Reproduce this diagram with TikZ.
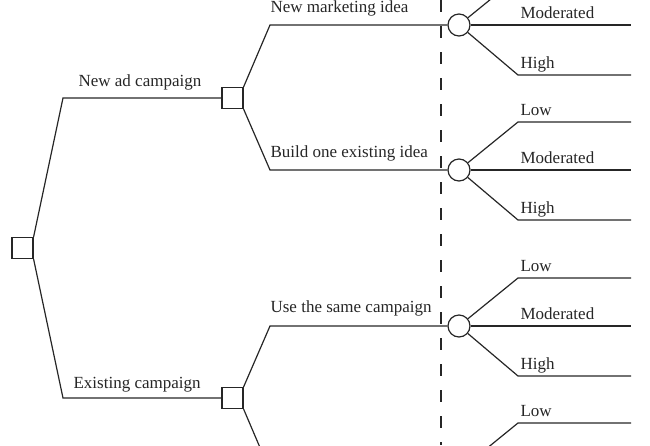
\documentclass[tikz,border=0pt]{standalone}
\usepackage{fontspec}
\setmainfont{Liberation Serif}
\usetikzlibrary{positioning}

\begin{document}
\begin{tikzpicture}[x=1pt,y=-1pt,line width=1.2pt,draw=black!85,
 decision/.style={rectangle,draw,fill=white,minimum size=21pt,inner sep=0pt},
 chance/.style={circle,draw,fill=white,minimum size=22pt,inner sep=0pt},
 txt/.style={font=\fontsize{17}{20}\selectfont,text=black!85,inner sep=0pt},
 cutline/.style={dash pattern=on 12pt off 14pt}]
  \useasboundingbox (0,0) rectangle (650,445);
  \clip (0,0) rectangle (650,445);

  \coordinate (top) at (441,0);
  \coordinate (bot) at (441,445);
  \draw[cutline] (top) -- (bot);

  \node[decision] (d0) at (22.5,248) {};
  \node[decision] (d1) at (232.5,98) {};
  \node[decision] (d2) at (232.5,398) {};
  \coordinate (b1) at (63,98);
  \coordinate (b2) at (63,398);

  \foreach \n/\y in {1/25, 2/170, 3/326, 4/471} {
   \node[chance] (c\n) at (459,\y) {};
   \coordinate (e\n) at (270,\y);
   \coordinate (low\n) at (518,\y-48);
   \coordinate (mod\n) at (518,\y);
   \coordinate (high\n) at (518,\y+50);
   \coordinate (lowend\n) at (631,\y-48);
   \coordinate (modend\n) at (631,\y);
   \coordinate (highend\n) at (631,\y+50);
   \draw (c\n) -- (low\n) -- (lowend\n);
   \draw (c\n) -- (modend\n);
   \draw (c\n) -- (high\n) -- (highend\n);}

  \foreach \s/\a/\b/\t in {d0/north east/b1/d1, d0/south east/b2/d2,
   d1/north east/e1/c1, d1/south east/e2/c2,
   d2/north east/e3/c3, d2/south east/e4/c4} {
   \draw (\s.\a) -- (\b) -- (\t);}

  % choices
  \path (b1) ++(15,-12) node[txt,anchor=base west] {New ad campaign};
  \path (b2) ++(10,-10) node[txt,anchor=base west] {Existing campaign};
  \path (e1) ++(0,-13) node[txt,anchor=base west] {New marketing idea};
  \path (e2) ++(0,-13) node[txt,anchor=base west] {Build one existing idea};
  \path (e3) ++(0,-14) node[txt,anchor=base west] {Use the same campaign};

  % outcomes
  \foreach \c/\t in {low2/Low, low3/Low, low4/Low,
   mod1/Moderated, mod2/Moderated, mod3/Moderated,
   high1/High, high2/High, high3/High} {
   \path (\c) ++(2,-7) node[txt,anchor=base west] {\t};}
\end{tikzpicture}
\end{document}
